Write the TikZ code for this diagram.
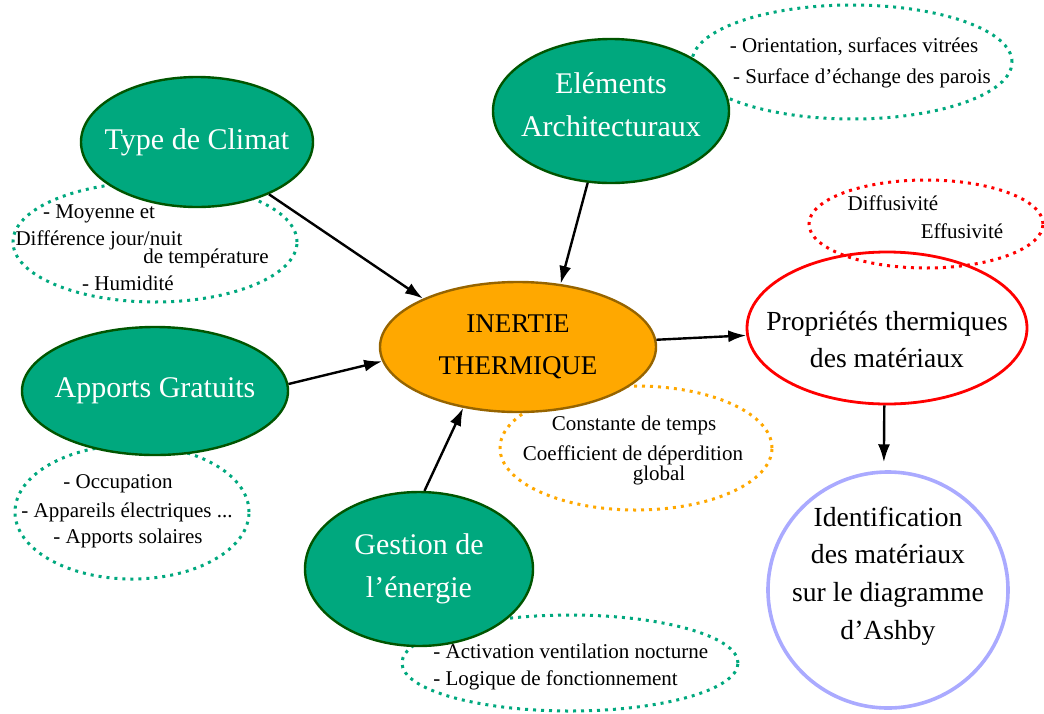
\documentclass[tikz,border=0pt]{standalone}
\usepackage{fontspec}
\setmainfont{Liberation Serif}
\usetikzlibrary{positioning,arrows.meta,shapes.geometric}

\definecolor{vert}{RGB}{0,168,126}
\definecolor{vertfonce}{RGB}{0,85,0}
\definecolor{orangeclair}{RGB}{255,168,0}
\definecolor{brun}{RGB}{150,100,0}
\definecolor{lavande}{RGB}{170,170,255}

\begin{document}
\begin{tikzpicture}[x=0.5pt,y=-0.5pt,
    theme/.style={ellipse, draw=vertfonce, fill=vert, line width=1.2pt, text=white,
        align=center, inner sep=-40pt, font=\fontsize{15}{21.5}\selectfont},
    centre/.style={ellipse, draw=brun, fill=orangeclair, line width=1.2pt,
        align=center, inner sep=-40pt, font=\fontsize{13.5}{21}\selectfont},
    bilan/.style={ellipse, line width=1.4pt, align=center, inner sep=-40pt,
        font=\fontsize{13.8}{18.8}\selectfont},
    notes/.style={ellipse, line width=1.5pt, dash pattern=on 1.5pt off 2.5pt, inner sep=0pt},
    ligne/.style={inner sep=0pt, text height=1.5ex, text depth=.25ex,
        font=\fontsize{10.5}{12}\selectfont},
    fleche/.style={-{Latex[length=9pt,width=6pt]}, line width=1.2pt}]

    \useasboundingbox (0,0) rectangle (1044,713);

    % bulles de notes
    \node (notesclimat) [notes, draw=vert, minimum width=142pt, minimum height=60pt] at (155,242) {};
    \node (notesapports) [notes, draw=vert, minimum width=117pt, minimum height=67pt] at (132,512) {};
    \node (notesgestion) [notes, draw=vert, minimum width=168pt, minimum height=48pt] at (570,663) {};
    \node (notesarchi) [notes, draw=vert, minimum width=160pt, minimum height=57pt] at (852,62) {};
    \node (notesinertie) [notes, draw=orangeclair, minimum width=136pt, minimum height=62pt] at (636,448) {};
    \node (notesprop) [notes, draw=red, minimum width=117pt, minimum height=44pt] at (926,224) {};

    \node (moyenne) [ligne] at (99,213) {- Moyenne et};
    \node (difference) [ligne] at (99,240) {Différence jour/nuit};
    \node (temperature) [ligne] at (206,258) {de température};
    \node (humidite) [ligne] at (128,285) {- Humidité};

    \node (occupation) [ligne] at (118,483) {- Occupation};
    \node (appareils) [ligne] at (127,512) {- Appareils électriques ...};
    \node (solaires) [ligne] at (128,538) {- Apports solaires};

    \node (ventilation) [ligne, anchor=west] at (433,653) {- Activation ventilation nocturne};
    \node (logique) [ligne, anchor=west] at (433,680) {- Logique de fonctionnement};

    \node (orientation) [ligne] at (854,47) {- Orientation, surfaces vitrées};
    \node (surface) [ligne] at (862,78) {- Surface d’échange des parois};

    \node (constante) [ligne] at (634,425) {Constante de temps};
    \node (coefficient) [ligne] at (633,455) {Coefficient de déperdition};
    \node (global) [ligne] at (659,475) {global};

    \node (diffusivite) [ligne] at (893,205) {Diffusivité};
    \node (effusivite) [ligne] at (962,233) {Effusivité};

    % bulles principales
    \node (climat) [theme, minimum width=116pt, minimum height=65pt] at (197,142) {Type de Climat};
    \node (archi) [theme, minimum width=118pt, minimum height=72pt] at (611,111) {Eléments\\Architecturaux\rule[-6pt]{0pt}{6pt}};
    \node (apports) [theme, minimum width=133pt, minimum height=64pt] at (155,391) {Apports Gratuits};
    \node (gestion) [theme, minimum width=114pt, minimum height=77pt] at (419,569) {Gestion de\\l’énergie};
    \node (inertie) [centre, minimum width=138pt, minimum height=65pt] at (518,347) {INERTIE\\THERMIQUE};
    \node (proprietes) [bilan, draw=red, minimum width=140pt, minimum height=76pt] at (887,328) {\rule{0pt}{21pt}Propriétés thermiques\\des matériaux};
    \node (ashby) [bilan, draw=lavande, line width=1.8pt, minimum width=120pt, minimum height=118pt] at (888,590) {Identification\\des matériaux\\sur le diagramme\\d’Ashby\rule[-17pt]{0pt}{17pt}};

    \path[fleche] (climat.324) edge (inertie.153);
    \path[fleche] (archi.252) edge (inertie.56);
    \path[fleche] (apports.3) edge (inertie.186);
    \path[fleche] (gestion.86) edge (inertie.228);
    \path[fleche] (inertie.3) edge (proprietes.183);
    \path[fleche] (proprietes.268) edge[shorten >=4pt] (ashby.92);

\end{tikzpicture}
\end{document}
